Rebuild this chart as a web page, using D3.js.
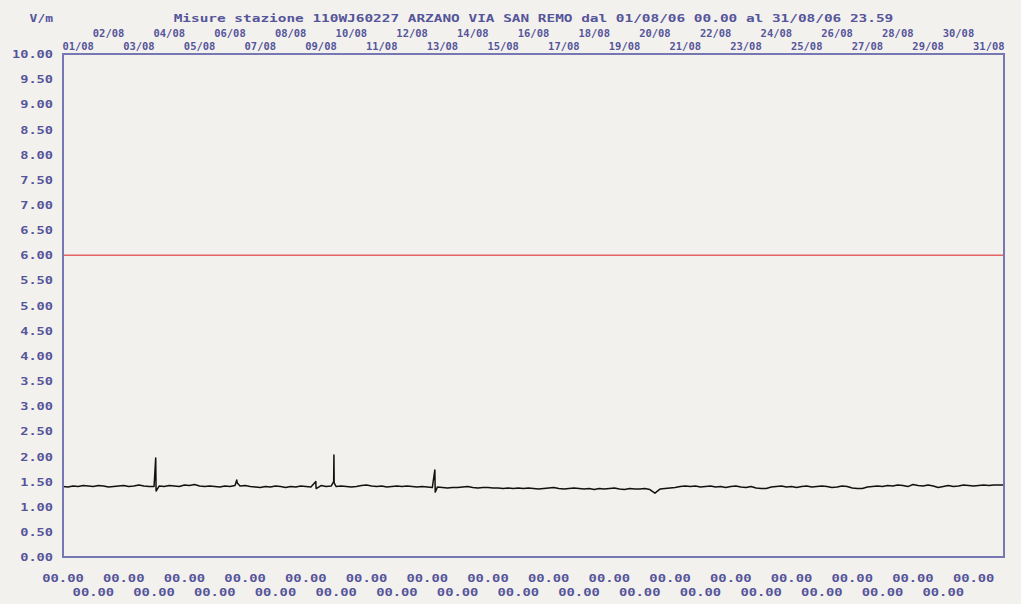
<!DOCTYPE html>
<html>
<head>
<meta charset="utf-8">
<script src="https://cdn.jsdelivr.net/npm/d3@7"></script>
<style>
  html, body { margin: 0; padding: 0; background: #f3f1ee; }
  svg { display: block; }
  text { font-family: "DejaVu Sans Mono", monospace; fill: #55559a; font-weight: bold; }
</style>
</head>
<body>
<svg id="chart" width="1021" height="604"></svg>
<script>
// ---- data ---------------------------------------------------------------
const chartTitle = "Misure stazione 110WJ60227 ARZANO VIA SAN REMO dal 01/08/06 00.00 al 31/08/06 23.59";
const unitLabel = "V/m";
const dayLabels = ["01/08","02/08","03/08","04/08","05/08","06/08","07/08","08/08","09/08","10/08",
                   "11/08","12/08","13/08","14/08","15/08","16/08","17/08","18/08","19/08","20/08",
                   "21/08","22/08","23/08","24/08","25/08","26/08","27/08","28/08","29/08","30/08","31/08"];
const timeLabels = ["00.00","00.00","00.00","00.00","00.00","00.00","00.00","00.00","00.00","00.00",
                    "00.00","00.00","00.00","00.00","00.00","00.00","00.00","00.00","00.00","00.00",
                    "00.00","00.00","00.00","00.00","00.00","00.00","00.00","00.00","00.00","00.00","00.00"];
const yTicks = [0, 0.5, 1, 1.5, 2, 2.5, 3, 3.5, 4, 4.5, 5, 5.5, 6, 6.5, 7, 7.5, 8, 8.5, 9, 9.5, 10];
const limitValue = 6.0;          // attention threshold, V/m
const sampleStepHours = 4;       // spacing of the regular readings

// field strength (V/m), one reading every 4 hours, day by day
const fieldValues = [
  1.40,1.39,1.41,1.40,1.42,1.41,   // 01
  1.40,1.42,1.41,1.39,1.40,1.41,   // 02
  1.42,1.40,1.41,1.43,1.41,1.40,   // 03
  1.40,1.41,1.40,1.42,1.41,1.40,   // 04
  1.43,1.42,1.44,1.41,1.40,1.41,   // 05
  1.40,1.39,1.41,1.40,1.42,1.41,   // 06
  1.42,1.40,1.39,1.38,1.40,1.39,   // 07
  1.41,1.40,1.38,1.40,1.39,1.41,   // 08
  1.40,1.39,1.41,1.42,1.40,1.41,   // 09
  1.40,1.41,1.40,1.39,1.40,1.42,   // 10
  1.43,1.41,1.40,1.41,1.39,1.40,   // 11
  1.41,1.40,1.41,1.40,1.39,1.40,   // 12
  1.39,1.38,1.39,1.38,1.37,1.38,   // 13
  1.38,1.39,1.40,1.38,1.37,1.38,   // 14
  1.38,1.37,1.37,1.36,1.37,1.36,   // 15
  1.37,1.36,1.37,1.36,1.35,1.36,   // 16
  1.37,1.38,1.36,1.35,1.36,1.37,   // 17
  1.36,1.35,1.36,1.34,1.36,1.35,   // 18
  1.36,1.37,1.35,1.34,1.36,1.35,   // 19
  1.35,1.36,1.34,1.27,1.35,1.36,   // 20
  1.37,1.38,1.40,1.41,1.40,1.41,   // 21
  1.39,1.40,1.41,1.39,1.40,1.38,   // 22
  1.40,1.41,1.39,1.38,1.40,1.37,   // 23
  1.36,1.36,1.39,1.40,1.41,1.39,   // 24
  1.40,1.38,1.40,1.41,1.39,1.40,   // 25
  1.41,1.40,1.38,1.39,1.41,1.40,   // 26
  1.37,1.36,1.36,1.39,1.40,1.41,   // 27
  1.40,1.42,1.41,1.43,1.42,1.40,   // 28
  1.44,1.42,1.41,1.43,1.41,1.38,   // 29
  1.40,1.42,1.40,1.41,1.43,1.42,   // 30
  1.41,1.42,1.43,1.42,1.43,1.43,   // 31
  1.43
];

// short transients between regular readings: [hour of month, V/m]
const spikeReadings = [
  [73.3, 1.97], [73.6, 1.31],
  [137.4, 1.53], [137.8, 1.47],
  [199.9, 1.50], [200.2, 1.36],
  [214.0, 1.50], [214.2, 2.03], [214.4, 1.48], [214.7, 1.46],
  [294.0, 1.73], [294.3, 1.29]
];

// ---- layout -------------------------------------------------------------
const svg = d3.select("#chart");
const plot = { left: 63, right: 1004, top: 54, bottom: 557 };
const textColor = "#55559a";
const frameColor = "#7777b4";

const x = d3.scaleLinear().domain([0, 31 * 24]).range([plot.left, plot.right]);
const y = d3.scaleLinear().domain([0, 10]).range([plot.bottom, plot.top]);

// stretch monospace glyphs to a fixed advance per character
function fit(sel, charW, anchor) {
  sel.each(function () {
    const t = d3.select(this);
    const len = t.text().length * charW;
    const x0 = +t.attr("x") || 0;
    const start = anchor === "end" ? x0 - len : anchor === "middle" ? x0 - len / 2 : x0;
    t.attr("x", start).attr("text-anchor", "start")
     .attr("textLength", len).attr("lengthAdjust", "spacingAndGlyphs");
  });
}

// ---- title & unit -------------------------------------------------------
svg.append("text").attr("x", (plot.left + plot.right) / 2).attr("y", 22)
  .style("font-size", "11px").text(chartTitle).call(fit, 8.67, "middle");
svg.append("text").attr("x", 53).attr("y", 22)
  .style("font-size", "10px").text(unitLabel).call(fit, 7.8, "end");

// ---- y axis -------------------------------------------------------------
const yAxis = svg.append("g").attr("transform", `translate(${plot.left},0)`)
  .call(d3.axisLeft(y).tickValues(yTicks).tickFormat(d3.format(".2f")).tickSize(0).tickPadding(10));
yAxis.select(".domain").remove();
yAxis.selectAll("text").attr("fill", textColor).style("font-size", "10px")
  .attr("dy", "0.36em").call(fit, 8.2, "end");

// ---- top date rows (label spans its day) ---------------------------------
const dayIdx = d3.range(dayLabels.length);
svg.append("g").selectAll("text").data(dayIdx).join("text")
  .attr("x", i => x(i * 24 + 12))
  .attr("y", i => (i % 2 === 0 ? 50 : 37.3))
  .style("font-size", "10.5px")
  .text(i => dayLabels[i])
  .call(fit, 6.3, "middle");

// ---- bottom time rows (label at day start) --------------------------------
svg.append("g").selectAll("text").data(dayIdx).join("text")
  .attr("x", i => x(i * 24))
  .attr("y", i => (i % 2 === 0 ? 581.7 : 596))
  .style("font-size", "11px")
  .text(i => timeLabels[i])
  .call(fit, 8.3, "middle");

// ---- threshold line -----------------------------------------------------
svg.append("line")
  .attr("x1", plot.left).attr("x2", plot.right)
  .attr("y1", y(limitValue)).attr("y2", y(limitValue))
  .attr("stroke", "#e46464").attr("stroke-width", 1.6);

// ---- measured series ----------------------------------------------------
const series = fieldValues.map((v, i) => [i * sampleStepHours, v])
  .concat(spikeReadings)
  .sort((a, b) => a[0] - b[0]);

svg.append("path")
  .datum(series)
  .attr("fill", "none")
  .attr("stroke", "#111111")
  .attr("stroke-width", 1.5)
  .attr("stroke-linejoin", "round")
  .attr("d", d3.line().x(d => x(d[0])).y(d => y(d[1])));

// ---- frame --------------------------------------------------------------
svg.append("rect")
  .attr("x", plot.left).attr("y", plot.top)
  .attr("width", plot.right - plot.left).attr("height", plot.bottom - plot.top)
  .attr("fill", "none").attr("stroke", frameColor).attr("stroke-width", 2);
</script>
</body>
</html>
